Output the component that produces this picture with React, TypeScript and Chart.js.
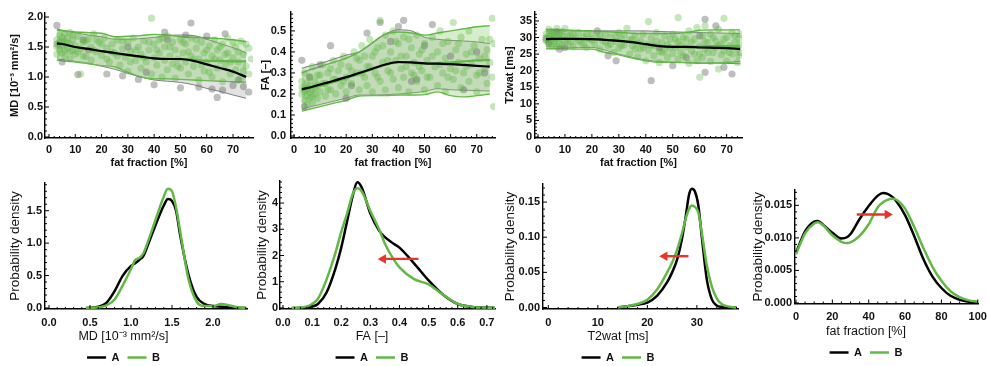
import React, { useEffect, useRef } from 'react';
import { Chart, registerables } from 'chart.js';

Chart.register(...registerables);

type Pt = [number, number];

// ---------------- DATA ----------------
const FF_GRID = [3, 5, 10, 15, 20, 25, 30, 35, 40, 45, 50, 55, 60, 65, 70, 75];
const FF_TICKS = [0, 10, 20, 30, 40, 50, 60, 70];

// MD vs fat fraction
const MD_MED_A = [1.56, 1.55, 1.50, 1.47, 1.43, 1.40, 1.37, 1.34, 1.31, 1.30, 1.30, 1.27, 1.21, 1.15, 1.09, 1.00];
const MD_MED_B = [1.55, 1.54, 1.50, 1.46, 1.43, 1.39, 1.36, 1.33, 1.31, 1.30, 1.30, 1.28, 1.27, 1.27, 1.26, 1.26];
const MD_UP_A = [1.80, 1.78, 1.74, 1.70, 1.67, 1.63, 1.63, 1.64, 1.66, 1.69, 1.70, 1.69, 1.63, 1.56, 1.49, 1.40];
const MD_LO_A = [1.30, 1.29, 1.26, 1.23, 1.18, 1.13, 1.06, 1.00, 0.95, 0.93, 0.91, 0.87, 0.81, 0.76, 0.70, 0.645];
const MD_UP_B = [1.78, 1.77, 1.75, 1.74, 1.73, 1.67, 1.68, 1.69, 1.71, 1.70, 1.67, 1.66, 1.655, 1.64, 1.62, 1.59];
const MD_LO_B = [1.28, 1.27, 1.25, 1.22, 1.19, 1.17, 1.08, 1.00, 0.97, 0.97, 0.96, 0.95, 0.94, 0.93, 0.92, 0.915];
const MD_PTS_B: Pt[] = [
  [3, 1.62], [3, 1.5], [4, 1.7], [4, 1.45], [4, 1.58], [5, 1.66], [5, 1.4], [5, 1.53], [6, 1.72], [6, 1.35],
  [6, 1.6], [7, 1.48], [7, 1.65], [8, 1.55], [8, 1.3], [8, 1.74], [9, 1.44], [9, 1.62], [10, 1.52], [10, 1.38],
  [11, 1.68], [12, 1.47], [12, 1.05], [13, 1.58], [14, 1.34], [15, 1.63], [16, 1.5], [16, 1.28], [17, 1.72], [18, 1.42],
  [19, 1.58], [20, 1.36], [21, 1.65], [22, 1.48], [23, 1.25], [24, 1.55], [25, 1.4], [26, 1.62], [27, 1.2], [28, 1.47],
  [29, 1.33], [30, 1.58], [30, 1.1], [31, 1.42], [32, 1.65], [33, 1.28], [34, 1.5], [35, 1.15], [35, 1.38], [36, 1.6],
  [37, 1.25], [38, 1.45], [39, 1.98], [39, 1.05], [40, 1.32], [40, 1.55], [41, 1.2], [42, 1.62], [42, 1.4], [43, 1.0],
  [44, 1.28], [44, 1.5], [45, 1.12], [45, 1.68], [46, 1.35], [47, 1.58], [47, 1.22], [48, 1.45], [48, 0.98], [49, 1.3],
  [50, 1.62], [50, 1.15], [51, 1.4], [52, 1.25], [52, 1.55], [53, 1.05], [54, 1.35], [54, 1.65], [55, 1.18], [56, 1.48],
  [57, 1.3], [57, 0.95], [58, 1.58], [59, 1.1], [59, 1.4], [60, 1.25], [61, 1.52], [62, 1.0], [62, 1.35], [63, 1.62],
  [64, 1.15], [64, 1.45], [65, 1.28], [66, 1.55], [66, 0.92], [67, 1.2], [68, 1.4], [68, 1.65], [69, 1.05], [70, 1.32],
  [71, 1.5], [71, 1.12], [72, 1.25], [73, 1.6], [73, 0.98], [74, 1.38], [75, 1.18], [76, 1.48], [76, 1.05], [77, 1.3],
  [4, 1.52], [5, 1.6], [6, 1.45], [7, 1.56], [9, 1.7], [11, 1.42], [13, 1.35], [14, 1.6], [17, 1.45], [18, 1.62],
  [20, 1.55], [22, 1.3], [24, 1.42], [26, 1.35], [28, 1.6], [31, 1.25], [33, 1.45], [36, 1.32], [38, 1.58], [41, 1.45],
  [43, 1.65], [46, 1.5], [49, 1.18], [51, 1.58], [53, 1.42], [55, 1.3], [56, 1.62], [58, 1.2], [60, 1.45], [61, 1.08],
  [63, 1.3], [65, 1.5], [67, 1.38], [69, 1.25], [70, 1.58], [72, 1.42], [74, 1.1], [75, 1.55], [3, 1.38], [8, 1.42],
];
const MD_PTS_A: Pt[] = [
  [3, 1.86], [3, 1.55], [5, 1.25], [11, 1.04], [13, 1.62], [15, 1.45], [22, 1.05], [28, 1.02], [30, 1.5], [34, 0.96],
  [37, 1.08], [40, 0.87], [44, 1.75], [45, 1.62], [50, 0.82], [52, 1.7], [54, 1.9], [57, 0.83], [60, 1.68], [62, 0.8],
  [64, 0.66], [66, 0.78], [67, 1.72], [70, 0.86], [72, 0.95], [74, 0.84], [76, 0.75],
];

// FA vs fat fraction
const FA_MED_A = [0.222, 0.228, 0.245, 0.262, 0.28, 0.3, 0.32, 0.34, 0.352, 0.35, 0.346, 0.344, 0.342, 0.338, 0.334, 0.33];
const FA_MED_B = [0.225, 0.228, 0.24, 0.256, 0.275, 0.296, 0.318, 0.338, 0.35, 0.349, 0.345, 0.346, 0.35, 0.355, 0.36, 0.362];
const FA_UP_A = [0.322, 0.33, 0.345, 0.365, 0.385, 0.4, 0.44, 0.485, 0.505, 0.5, 0.47, 0.46, 0.455, 0.452, 0.448, 0.44];
const FA_LO_A = [0.127, 0.135, 0.15, 0.165, 0.18, 0.195, 0.195, 0.197, 0.2, 0.205, 0.212, 0.225, 0.22, 0.218, 0.216, 0.214];
const FA_UP_B = [0.3, 0.31, 0.33, 0.35, 0.37, 0.4, 0.445, 0.485, 0.495, 0.49, 0.48, 0.49, 0.5, 0.51, 0.52, 0.525];
const FA_LO_B = [0.119, 0.125, 0.14, 0.155, 0.17, 0.19, 0.192, 0.192, 0.195, 0.195, 0.197, 0.21, 0.192, 0.186, 0.192, 0.2];
const FA_PTS_B: Pt[] = [
  [3, 0.2], [3, 0.26], [4, 0.17], [4, 0.23], [4, 0.3], [5, 0.19], [5, 0.15], [5, 0.25], [6, 0.21], [6, 0.28],
  [6, 0.18], [7, 0.22], [7, 0.16], [7, 0.33], [8, 0.2], [8, 0.26], [9, 0.24], [9, 0.18], [10, 0.29], [10, 0.21],
  [11, 0.34], [12, 0.25], [12, 0.19], [13, 0.3], [14, 0.22], [15, 0.36], [15, 0.27], [16, 0.2], [17, 0.31], [18, 0.24],
  [19, 0.38], [20, 0.28], [20, 0.21], [21, 0.33], [22, 0.25], [23, 0.4], [24, 0.3], [25, 0.22], [25, 0.36], [26, 0.43],
  [27, 0.28], [28, 0.33], [28, 0.24], [29, 0.46], [30, 0.38], [30, 0.21], [31, 0.3], [32, 0.42], [33, 0.55], [33, 0.26],
  [34, 0.35], [35, 0.48], [35, 0.22], [36, 0.31], [37, 0.4], [38, 0.27], [38, 0.5], [39, 0.36], [40, 0.23], [40, 0.44],
  [41, 0.32], [42, 0.47], [42, 0.28], [43, 0.38], [44, 0.21], [45, 0.42], [45, 0.3], [46, 0.35], [47, 0.26], [47, 0.48],
  [48, 0.39], [49, 0.31], [50, 0.44], [50, 0.22], [51, 0.36], [52, 0.28], [53, 0.47], [54, 0.33], [55, 0.4], [55, 0.24],
  [56, 0.5], [57, 0.3], [58, 0.37], [58, 0.21], [59, 0.45], [60, 0.32], [61, 0.27], [61, 0.54], [62, 0.41], [63, 0.35],
  [64, 0.23], [64, 0.47], [65, 0.3], [66, 0.39], [67, 0.26], [67, 0.5], [68, 0.34], [69, 0.43], [70, 0.29], [70, 0.21],
  [71, 0.37], [72, 0.46], [73, 0.32], [74, 0.25], [74, 0.41], [75, 0.35], [76, 0.56], [76, 0.28], [76.5, 0.44], [76.5, 0.14],
  [3, 0.23], [4, 0.21], [5, 0.22], [6, 0.24], [7, 0.19], [8, 0.23], [9, 0.29], [11, 0.25], [13, 0.22], [14, 0.32],
  [16, 0.27], [18, 0.34], [19, 0.26], [22, 0.31], [24, 0.37], [26, 0.3], [27, 0.38], [29, 0.33], [31, 0.4], [32, 0.28],
  [34, 0.43], [36, 0.36], [37, 0.3], [39, 0.45], [41, 0.38], [43, 0.33], [44, 0.46], [46, 0.29], [48, 0.33], [49, 0.41],
  [51, 0.28], [53, 0.38], [56, 0.34], [57, 0.44], [59, 0.28], [62, 0.31], [63, 0.44], [66, 0.33], [68, 0.4], [71, 0.3],
  [73, 0.38], [75, 0.46],
];
const FA_PTS_A: Pt[] = [
  [3, 0.36], [4, 0.14], [6, 0.28], [10, 0.34], [14, 0.43], [20, 0.18], [22, 0.24], [28, 0.49], [33, 0.54], [37, 0.45],
  [40, 0.52], [42, 0.55], [45, 0.26], [47, 0.27], [50, 0.43], [53, 0.53], [60, 0.38], [65, 0.22], [70, 0.4], [73, 0.3],
];

// T2wat vs fat fraction
const T2_MED_A = [29.5, 29.6, 29.6, 29.6, 29.5, 29.3, 29.0, 28.6, 28.0, 27.4, 27.2, 27.2, 27.0, 26.9, 26.8, 26.6];
const T2_MED_B = [29.6, 29.6, 29.6, 29.5, 29.5, 29.3, 29.0, 28.5, 28.0, 27.4, 27.1, 27.1, 27.3, 27.4, 27.4, 27.5];
const T2_UP_A = [32.0, 32.0, 32.0, 32.0, 32.0, 32.0, 32.0, 32.0, 32.0, 31.8, 31.7, 31.6, 31.5, 31.4, 31.3, 31.2];
const T2_LO_A = [27.2, 27.2, 27.1, 27.0, 27.0, 26.2, 25.0, 24.0, 23.2, 22.8, 22.6, 22.5, 22.4, 22.3, 22.2, 22.1];
const T2_UP_B = [32.4, 32.4, 32.3, 32.1, 32.0, 31.8, 31.5, 31.3, 31.2, 31.2, 31.2, 31.5, 32.2, 32.3, 32.3, 32.3];
const T2_LO_B = [26.6, 26.6, 26.6, 26.5, 26.5, 25.5, 24.8, 23.8, 23.0, 22.5, 22.5, 22.4, 22.2, 22.3, 22.5, 22.8];
const T2_PTS_B: Pt[] = [
  [3, 29.0], [3, 31.0], [4, 28.0], [4, 30.5], [4, 32.5], [5, 29.5], [5, 27.5], [5, 31.8], [6, 28.5], [6, 30.0],
  [7, 32.8], [7, 27.2], [7, 29.8], [8, 31.2], [8, 28.2], [9, 30.5], [9, 27.8], [10, 29.2], [10, 32.8], [11, 28.8],
  [12, 30.8], [13, 27.5], [14, 29.8], [15, 31.5], [16, 28.4], [17, 30.2], [18, 27.0], [19, 29.5], [20, 31.2], [21, 28.0],
  [22, 30.0], [23, 26.5], [24, 29.0], [25, 31.0], [26, 27.5], [27, 30.2], [28, 25.5], [29, 28.8], [30, 31.5], [30, 26.8],
  [31, 29.5], [32, 27.8], [33, 32.8], [34, 25.0], [34, 29.2], [35, 27.5], [36, 30.5], [37, 24.2], [37, 28.3], [38, 26.5],
  [39, 31.0], [40, 23.0], [40, 28.0], [41, 34.8], [41, 26.2], [42, 29.8], [43, 24.5], [43, 27.5], [44, 31.5], [45, 25.8],
  [45, 22.5], [46, 28.5], [47, 26.0], [47, 30.5], [48, 24.0], [48, 27.8], [49, 29.5], [50, 25.2], [50, 31.0], [51, 27.0],
  [52, 36.0], [52, 23.5], [52, 28.8], [53, 25.5], [54, 30.0], [54, 24.5], [55, 27.2], [56, 32.0], [56, 22.2], [57, 26.0],
  [58, 29.5], [58, 25.0], [59, 33.0], [59, 23.0], [60, 18.0], [60, 27.5], [61, 30.5], [61, 24.0], [62, 33.5], [62, 26.5],
  [63, 28.5], [64, 22.8], [64, 31.0], [65, 25.5], [66, 29.0], [66, 27.0], [67, 32.5], [67, 20.5], [68, 24.8], [68, 28.0],
  [69, 35.8], [69, 26.0], [70, 30.0], [70, 23.0], [71, 27.5], [72, 25.0], [72, 31.5], [73, 28.5], [74, 22.5], [74, 26.5],
  [74.5, 29.8], [74.5, 24.5], [75, 27.8], [75, 31.0],
  [3, 30.0], [4, 29.5], [5, 30.8], [6, 29.0], [6, 31.5], [8, 29.8], [9, 31.8], [11, 30.5], [12, 28.5], [13, 31.0],
  [15, 29.0], [17, 28.0], [18, 31.0], [20, 29.2], [23, 30.8], [25, 28.5], [27, 28.0], [29, 30.5], [31, 27.5], [32, 30.8],
  [35, 29.5], [36, 26.5], [38, 29.0], [39, 27.0], [42, 27.8], [44, 29.0], [46, 25.5], [49, 27.0], [51, 29.5], [53, 27.8],
  [55, 29.5], [57, 28.5], [60, 25.0], [62, 28.8], [63, 25.5], [65, 30.0], [67, 27.5], [69, 29.5], [71, 25.5], [73, 30.5],
  [75, 25.5],
];
const T2_PTS_A: Pt[] = [
  [3, 29.5], [4, 28.5], [7, 31.8], [8, 26.5], [10, 27.0], [22, 32.0], [26, 24.5], [29, 23.0], [42, 17.0], [45, 27.0],
  [50, 21.5], [55, 24.0], [60, 30.5], [62, 19.5], [62, 35.5], [66, 33.5], [69, 21.0], [72, 19.0],
];

// Probability densities
const MD_DENS_X = [0.45, 0.5, 0.6, 0.7, 0.8, 0.9, 1.0, 1.05, 1.1, 1.15, 1.2, 1.3, 1.4, 1.45, 1.5, 1.55, 1.6, 1.7, 1.8, 1.9, 2.0, 2.1, 2.2, 2.3, 2.4];
const MD_DENS_A = [0, 0.003, 0.02, 0.08, 0.26, 0.5, 0.65, 0.69, 0.74, 0.8, 0.95, 1.28, 1.58, 1.68, 1.65, 1.5, 1.12, 0.52, 0.17, 0.06, 0.03, 0.02, 0.01, 0.005, 0];
const MD_DENS_B = [0, 0.002, 0.01, 0.04, 0.13, 0.35, 0.6, 0.74, 0.77, 0.84, 1.0, 1.36, 1.72, 1.84, 1.8, 1.55, 1.18, 0.45, 0.1, 0.03, 0.03, 0.06, 0.04, 0.01, 0];
const MD_DENS_X_TICKS = [0, 0.5, 1, 1.5, 2];
const MD_DENS_Y_TICKS = [0, 0.5, 1, 1.5];

const FA_DENS_X = [0.03, 0.05, 0.08, 0.1, 0.12, 0.15, 0.18, 0.2, 0.22, 0.24, 0.255, 0.27, 0.3, 0.33, 0.35, 0.38, 0.4, 0.45, 0.5, 0.55, 0.6, 0.65, 0.7, 0.73];
const FA_DENS_A = [0, 0, 0.01, 0.05, 0.15, 0.6, 1.5, 2.3, 3.3, 4.3, 4.79, 4.6, 3.6, 2.95, 2.7, 2.45, 2.3, 1.7, 1.05, 0.5, 0.15, 0.04, 0.01, 0];
const FA_DENS_B = [0, 0.01, 0.05, 0.15, 0.35, 1.1, 2.1, 2.9, 3.6, 4.35, 4.56, 4.45, 3.7, 3.0, 2.45, 1.85, 1.55, 1.1, 0.9, 0.5, 0.15, 0.04, 0.01, 0];
const FA_DENS_X_TICKS = [0, 0.1, 0.2, 0.3, 0.4, 0.5, 0.6, 0.7];
const FA_DENS_Y_TICKS = [0, 1, 2, 3, 4];
const FA_ARROW_X = [0.465, 0.344];
const FA_ARROW_Y = [1.87, 1.87];

const T2_DENS_X = [14, 16, 18, 20, 22, 24, 25, 26, 27, 27.8, 28.4, 29, 29.6, 30.3, 31, 32, 33, 34, 35, 36, 38];
const T2_DENS_A = [0, 0.002, 0.004, 0.007, 0.017, 0.036, 0.05, 0.068, 0.098, 0.132, 0.16, 0.169, 0.165, 0.145, 0.1, 0.04, 0.012, 0.003, 0.001, 0.0005, 0];
const T2_DENS_B = [0, 0.002, 0.005, 0.011, 0.026, 0.05, 0.064, 0.082, 0.106, 0.128, 0.14, 0.145, 0.143, 0.135, 0.106, 0.06, 0.03, 0.013, 0.005, 0.002, 0];
const T2_DENS_X_TICKS = [0, 10, 20, 30];
const T2_DENS_Y_TICKS = [0, 0.05, 0.1, 0.15];
const T2_ARROW_X = [28.3, 23.5];
const T2_ARROW_Y = [0.073, 0.073];

const FF_DENS_X = [0, 5, 10, 12, 15, 20, 25, 28, 30, 35, 40, 45, 48, 50, 53, 55, 60, 65, 70, 75, 80, 85, 90, 95, 100];
const FF_DENS_A = [0.0077, 0.011, 0.0125, 0.0126, 0.012, 0.0108, 0.0099, 0.0101, 0.0106, 0.0129, 0.0149, 0.0165, 0.0169, 0.0168, 0.0163, 0.0157, 0.0135, 0.0103, 0.0068, 0.0041, 0.0023, 0.0011, 0.0005, 0.0002, 0.0001];
const FF_DENS_B = [0.0075, 0.0107, 0.0122, 0.0124, 0.0119, 0.0104, 0.0094, 0.0092, 0.0093, 0.0103, 0.0121, 0.0147, 0.0155, 0.0158, 0.016, 0.0159, 0.0145, 0.0117, 0.0085, 0.0056, 0.0034, 0.0018, 0.0009, 0.0004, 0.0002];
const FF_DENS_X_TICKS = [0, 20, 40, 60, 80, 100];
const FF_DENS_Y_TICKS = [0, 0.005, 0.01, 0.015];
const FF_ARROW_X = [33.4, 50.3];
const FF_ARROW_Y = [0.0136, 0.0136];

const MD_Y_TICKS = [0, 0.5, 1, 1.5, 2];
const FA_Y_TICKS = [0, 0.1, 0.2, 0.3, 0.4, 0.5];
const T2_Y_TICKS = [0, 5, 10, 15, 20, 25, 30, 35];

// ---------------- STYLE ----------------
const FONT = "'Liberation Sans', Arial, Helvetica, sans-serif";
const GREEN = '#62b845';
const RED = '#e8352a';
const INK = '#111111';
const MD_UNIT = 'MD [10\u207B\u00B3 mm\u00B2/s]';

const toXY = (xs: number[], ys: number[]) => xs.map((x, i) => ({ x, y: ys[i] }));
const ptsXY = (p: Pt[]) => p.map(([x, y]) => ({ x, y }));

const mmaTicks = {
  id: 'mmaTicks',
  afterDraw(chart: any, _args: any, opts: any) {
    const ctx = chart.ctx;
    const { left, bottom } = chart.chartArea;
    ctx.save();
    ctx.strokeStyle = '#000';
    ctx.lineWidth = 1;
    const draw = (scale: any, o: any, horiz: boolean) => {
      if (!o) return;
      const i0 = Math.ceil(scale.min / o.minor - 1e-9);
      const i1 = Math.floor(scale.max / o.minor + 1e-9);
      for (let i = i0; i <= i1; i++) {
        const v = i * o.minor;
        const len = i % o.ratio === 0 ? 4 : 2;
        const p = scale.getPixelForValue(v);
        ctx.beginPath();
        if (horiz) {
          ctx.moveTo(p, bottom);
          ctx.lineTo(p, bottom - len);
        } else {
          ctx.moveTo(left, p);
          ctx.lineTo(left + len, p);
        }
        ctx.stroke();
      }
    };
    draw(chart.scales.x, opts.x, true);
    draw(chart.scales.y, opts.y, false);
    ctx.restore();
  },
};

function axis(o: any) {
  return {
    type: 'linear',
    position: o.isX ? 'bottom' : 'left',
    min: o.min,
    max: o.max,
    afterBuildTicks: (s: any) => {
      s.ticks = o.ticks.map((v: number) => ({ value: v }));
    },
    afterFit: (s: any) => {
      if (o.isX) s.height = o.size;
      else s.width = o.size;
    },
    grid: { display: false, drawTicks: false },
    border: { display: true, color: '#000', width: 1.4 },
    ticks: {
      padding: o.tickPad,
      autoSkip: false,
      maxRotation: 0,
      color: INK,
      font: { family: FONT, size: 11, weight: 'bold' },
      callback: (v: any) => Number(v).toFixed(o.dec),
    },
    title: o.title
      ? { display: true, text: o.title, color: INK, font: o.titleFont, padding: o.titlePad }
      : { display: false },
  };
}

const lineDs = (label: string, data: any[], color: string, width: number, extra: any = {}) => ({
  label,
  data,
  borderColor: color,
  backgroundColor: color,
  borderWidth: width,
  pointRadius: 0,
  pointHoverRadius: 0,
  cubicInterpolationMode: 'monotone',
  fill: false,
  ...extra,
});

const pointDs = (label: string, pts: Pt[], color: string) => ({
  label,
  data: ptsXY(pts),
  showLine: false,
  pointRadius: 3.6,
  pointHoverRadius: 0,
  pointBorderWidth: 0,
  pointBackgroundColor: color,
  backgroundColor: color,
  borderColor: 'rgba(0,0,0,0)',
});

function topConfig(s: any) {
  const GRAYLINE = 'rgba(100,100,100,0.85)';
  const datasets = [
    lineDs('A', toXY(FF_GRID, s.medA), '#000', 2.2),
    lineDs('B', toXY(FF_GRID, s.medB), GREEN, 2.2),
    pointDs('B pts', s.ptsB, 'rgba(85,180,55,0.34)'),
    pointDs('A pts', s.ptsA, 'rgba(110,110,110,0.45)'),
    lineDs('B upper', toXY(FF_GRID, s.upB), GREEN, 1.4, { fill: 5, backgroundColor: 'rgba(135,205,105,0.34)' }),
    lineDs('B lower', toXY(FF_GRID, s.loB), GREEN, 1.4),
    lineDs('A upper', toXY(FF_GRID, s.upA), GRAYLINE, 1, { fill: 7, backgroundColor: 'rgba(150,150,150,0.28)' }),
    lineDs('A lower', toXY(FF_GRID, s.loA), GRAYLINE, 1),
  ];
  const boldTitle = { family: FONT, size: 11, weight: 'bold' };
  return {
    type: 'line',
    data: { datasets },
    options: {
      animation: false,
      responsive: false,
      events: [],
      layout: { padding: s.pad },
      plugins: {
        legend: { display: false },
        tooltip: { enabled: false },
        title: { display: false },
        mmaTicks: { x: { minor: 2, ratio: 5 }, y: s.yMinor },
      },
      scales: {
        x: axis({ isX: true, min: s.xMin, max: s.xMax, ticks: FF_TICKS, dec: 0, size: s.xSize, tickPad: 5,
          title: 'fat fraction [%]', titleFont: boldTitle, titlePad: { top: 0, bottom: 5 } }),
        y: axis({ isX: false, min: s.yMin, max: s.yMax, ticks: s.yTicks, dec: s.yDec, size: s.ySize, tickPad: s.yTickPad,
          title: s.yTitle, titleFont: boldTitle, titlePad: { top: s.yTitlePad, bottom: 0 } }),
      },
    },
    plugins: [mmaTicks],
  };
}

function bottomConfig(s: any) {
  const datasets = [
    lineDs('A', toXY(s.dx, s.da), '#000', 2.5, { order: 2 }),
    lineDs('B', toXY(s.dx, s.db), GREEN, 2.5, { order: 1 }),
  ];
  if (s.ax) {
    datasets.push(
      lineDs('arrow', toXY(s.ax, s.ay), RED, 2.4, {
        order: 0,
        cubicInterpolationMode: 'default',
        pointRadius: [0, 5.5],
        pointStyle: 'triangle',
        pointRotation: s.arot,
        pointBackgroundColor: RED,
        pointBorderColor: RED,
        pointBorderWidth: 0,
      }),
    );
  }
  return {
    type: 'line',
    data: { datasets },
    options: {
      animation: false,
      responsive: false,
      events: [],
      layout: { padding: s.pad },
      plugins: {
        tooltip: { enabled: false },
        title: {
          display: true,
          text: s.xTitle,
          position: 'bottom',
          color: INK,
          font: { family: FONT, size: 12.5, weight: 'normal' },
          padding: { top: 0, bottom: 0 },
        },
        legend: {
          display: true,
          position: 'bottom',
          weight: 3000,
          labels: {
            usePointStyle: true,
            pointStyle: 'line',
            pointStyleWidth: 19,
            padding: 8,
            color: INK,
            font: { family: FONT, size: 11, weight: 'bold' },
            filter: (item: any) => item.text === 'A' || item.text === 'B',
            sort: (a: any, b: any) => a.datasetIndex - b.datasetIndex,
          },
        },
        mmaTicks: { x: s.xMinor, y: s.yMinor },
      },
      scales: {
        x: axis({ isX: true, min: s.xMin, max: s.xMax, ticks: s.xTicks, dec: s.xDec, size: s.xSize, tickPad: s.xTickPad }),
        y: axis({ isX: false, min: s.yMin, max: s.yMax, ticks: s.yTicks, dec: s.yDec, size: s.ySize, tickPad: s.yTickPad,
          title: 'Probability density', titleFont: { family: FONT, size: 13.5, weight: 'normal' },
          titlePad: { top: s.yTitlePad, bottom: 0 } }),
      },
    },
    plugins: [mmaTicks],
  };
}

const PANELS = [
  {
    box: { left: 0, top: 0, width: 261, height: 175 },
    cfg: () => topConfig({
      medA: MD_MED_A, medB: MD_MED_B, upA: MD_UP_A, loA: MD_LO_A, upB: MD_UP_B, loB: MD_LO_B, ptsA: MD_PTS_A, ptsB: MD_PTS_B,
      xMin: -1.52, xMax: 77.6, yMin: -0.017, yMax: 2.067, yTicks: MD_Y_TICKS, yDec: 1, yMinor: { minor: 0.1, ratio: 5 },
      yTitle: MD_UNIT, yTitlePad: 8, yTickPad: 2, ySize: 45, xSize: 37,
      pad: { top: 13, right: 8, bottom: 0, left: 0 },
    }),
  },
  {
    box: { left: 252, top: 0, width: 251, height: 175 },
    cfg: () => topConfig({
      medA: FA_MED_A, medB: FA_MED_B, upA: FA_UP_A, loA: FA_LO_A, upB: FA_UP_B, loB: FA_LO_B, ptsA: FA_PTS_A, ptsB: FA_PTS_B,
      xMin: -1.15, xMax: 77.0, yMin: -0.0095, yMax: 0.59, yTicks: FA_Y_TICKS, yDec: 1, yMinor: { minor: 0.02, ratio: 5 },
      yTitle: 'FA [\u2013]', yTitlePad: 7, yTickPad: 5, ySize: 39, xSize: 37,
      pad: { top: 12, right: 8, bottom: 0, left: 0 },
    }),
  },
  {
    box: { left: 497, top: 0, width: 253, height: 175 },
    cfg: () => topConfig({
      medA: T2_MED_A, medB: T2_MED_B, upA: T2_UP_A, loA: T2_LO_A, upB: T2_UP_B, loB: T2_LO_B, ptsA: T2_PTS_A, ptsB: T2_PTS_B,
      xMin: -1.11, xMax: 75.7, yMin: -0.3, yMax: 37.7, yTicks: T2_Y_TICKS, yDec: 0, yMinor: { minor: 1, ratio: 5 },
      yTitle: 'T2wat [ms]', yTitlePad: 6.4, yTickPad: 3, ySize: 38, xSize: 37,
      pad: { top: 12, right: 8, bottom: 0, left: 0 },
    }),
  },
  {
    box: { left: 0, top: 170, width: 252, height: 203 },
    cfg: () => bottomConfig({
      dx: MD_DENS_X, da: MD_DENS_A, db: MD_DENS_B,
      xMin: -0.049, xMax: 2.415, xTicks: MD_DENS_X_TICKS, xDec: 1, xMinor: { minor: 0.1, ratio: 5 }, xTickPad: 7, xSize: 20,
      yMin: -0.0155, yMax: 1.927, yTicks: MD_DENS_Y_TICKS, yDec: 1, yMinor: { minor: 0.1, ratio: 5 },
      ySize: 45, yTickPad: 3, yTitlePad: 7, xTitle: MD_UNIT,
      pad: { top: 13, right: 5, bottom: 0, left: 0 },
    }),
  },
  {
    box: { left: 249, top: 170, width: 254, height: 203 },
    cfg: () => bottomConfig({
      dx: FA_DENS_X, da: FA_DENS_A, db: FA_DENS_B, ax: FA_ARROW_X, ay: FA_ARROW_Y, arot: 270,
      xMin: -0.0103, xMax: 0.728, xTicks: FA_DENS_X_TICKS, xDec: 1, xMinor: { minor: 0.02, ratio: 5 }, xTickPad: 7, xSize: 20,
      yMin: -0.04, yMax: 4.84, yTicks: FA_DENS_Y_TICKS, yDec: 0, yMinor: { minor: 0.2, ratio: 5 },
      ySize: 31, yTickPad: 2, yTitlePad: 5, xTitle: 'FA [\u2013]',
      pad: { top: 11, right: 8, bottom: 0, left: 0 },
    }),
  },
  {
    box: { left: 498, top: 170, width: 248, height: 203 },
    cfg: () => bottomConfig({
      dx: T2_DENS_X, da: T2_DENS_A, db: T2_DENS_B, ax: T2_ARROW_X, ay: T2_ARROW_Y, arot: 270,
      xMin: -1.07, xMax: 38.3, xTicks: T2_DENS_X_TICKS, xDec: 0, xMinor: { minor: 2, ratio: 5 }, xTickPad: 7, xSize: 20,
      yMin: -0.0021, yMax: 0.1757, yTicks: T2_DENS_Y_TICKS, yDec: 2, yMinor: { minor: 0.01, ratio: 5 },
      ySize: 45, yTickPad: 3, yTitlePad: 4, xTitle: 'T2wat [ms]',
      pad: { top: 14, right: 8, bottom: 0, left: 0 },
    }),
  },
  {
    box: { left: 752, top: 170, width: 242, height: 198 },
    cfg: () => bottomConfig({
      dx: FF_DENS_X, da: FF_DENS_A, db: FF_DENS_B, ax: FF_ARROW_X, ay: FF_ARROW_Y, arot: 90,
      xMin: -0.55, xMax: 100.4, xTicks: FF_DENS_X_TICKS, xDec: 0, xMinor: { minor: 5, ratio: 4 }, xTickPad: 7, xSize: 20.5,
      yMin: -0.00008, yMax: 0.01736, yTicks: FF_DENS_Y_TICKS, yDec: 3, yMinor: { minor: 0.001, ratio: 5 },
      ySize: 43, yTickPad: 3, yTitlePad: -2, xTitle: 'fat fraction [%]',
      pad: { top: 20, right: 14, bottom: 0, left: 0 },
    }),
  },
];

function Panel({ box, cfg }: { box: any; cfg: () => any }) {
  const ref = useRef<HTMLCanvasElement>(null);
  useEffect(() => {
    const chart = new Chart(ref.current as HTMLCanvasElement, cfg() as any);
    return () => chart.destroy();
  }, []);
  return (
    <canvas
      ref={ref}
      width={box.width}
      height={box.height}
      style={{ position: 'absolute', left: box.left, top: box.top, width: box.width, height: box.height }}
    />
  );
}

export default function App() {
  return (
    <div style={{ position: 'absolute', left: 0, top: 0, width: 988, height: 366, overflow: 'hidden', background: '#fff' }}>
      {PANELS.map((p, i) => (
        <Panel key={i} box={p.box} cfg={p.cfg} />
      ))}
    </div>
  );
}
